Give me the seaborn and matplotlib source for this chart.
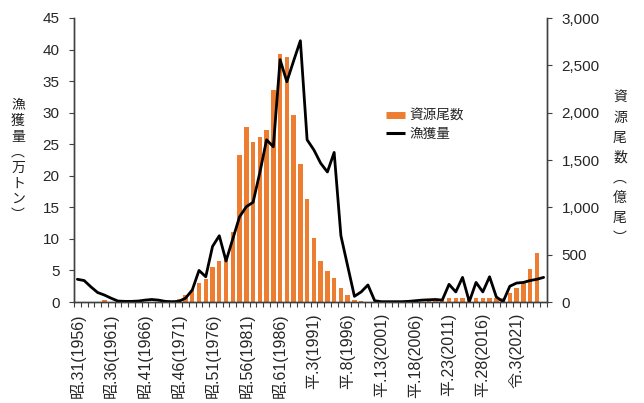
import matplotlib
matplotlib.use("Agg")
import matplotlib.pyplot as plt
from matplotlib.lines import Line2D
from matplotlib.ticker import FixedLocator, FuncFormatter
import seaborn as sns
import numpy as np

# 漁獲量 (万トン), 1956-2025
years = list(range(1956, 2026))
catch = [3.6, 3.4, 2.4, 1.5, 1.1, 0.6, 0.15, 0.1, 0.1, 0.15,
         0.3, 0.4, 0.3, 0.1, 0.05, 0.1, 0.6, 1.9, 5.0, 4.0,
         8.8, 10.5, 6.5, 10.0, 13.5, 15.1, 15.8, 20.5, 25.7, 24.6,
         38.4, 34.9, 38.2, 41.4, 25.7, 24.1, 22.0, 20.6, 23.7, 10.5,
         5.7, 0.9, 1.6, 2.7, 0.2, 0.05, 0.05, 0.05, 0.05, 0.1,
         0.2, 0.3, 0.35, 0.4, 0.3, 2.8, 1.6, 3.9, 0.05, 3.1,
         1.6, 4.0, 0.8, 0.05, 2.5, 3.0, 3.1, 3.4, 3.6, 3.9]

# 資源尾数 (億尾), 1956-2024
stock_years = list(range(1956, 2025))
stock = [3, 3, 2, 5, 20, 5, 2, 2, 2, 2,
         2, 2, 2, 3, 10, 35, 70, 125, 200, 245,
         372, 433, 461, 740, 1558, 1853, 1688, 1741, 1818, 2240,
         2619, 2590, 1976, 1460, 1092, 681, 432, 330, 249, 144,
         75, 25, 8, 3, 2, 2, 2, 2, 2, 3,
         4, 5, 8, 12, 25, 40, 40, 40, 40, 40,
         40, 40, 40, 45, 91, 144, 214, 345, 515]

label_years = list(range(1956, 2022, 5))
label_text = ["昭.31(1956)", "昭.36(1961)", "昭.41(1966)", "昭.46(1971)",
              "昭.51(1976)", "昭.56(1981)", "昭.61(1986)", "平.3(1991)",
              "平.8(1996)", "平.13(2001)", "平.18(2006)", "平.23(2011)",
              "平.28(2016)", "令.3(2021)"]

ORANGE = "#ED7D31"
AXIS = "#404040"

sns.set_theme(style="white")
plt.rcParams['font.family'] = ['Liberation Sans', 'Noto Sans CJK JP']

fig = plt.figure(figsize=(6.44, 4.03), dpi=100)
ax = fig.add_axes([74 / 644, 1 - 302 / 403, (547 - 74) / 644, (302 - 18) / 403])
ax2 = ax.twinx()

# bars on the right axis, line on the left axis drawn above them
sns.barplot(x=stock_years, y=stock, native_scale=True, color=ORANGE,
            saturation=1, width=0.65, edgecolor="none", ax=ax2)
sns.lineplot(x=years, y=catch, color="black", lw=2.0, ax=ax)
ax.set_zorder(ax2.get_zorder() + 1)
ax.patch.set_visible(False)

ax.set_xlim(1955.5, 2025.5)
ax.set_ylim(0, 45)
ax2.set_ylim(0, 3000)

ax.xaxis.set_major_locator(FixedLocator(label_years))
ax.set_xticklabels(label_text, rotation=90, fontsize=11.5, va="top")
ax.xaxis.set_minor_locator(FixedLocator(np.arange(1955.5, 2026, 1)))
ax.tick_params(axis="x", which="major", length=0, pad=8)
ax.tick_params(axis="x", which="minor", bottom=True, length=3.5, width=0.8,
               color=AXIS, direction="out")

ax.set_yticks(range(0, 46, 5))
ax.tick_params(axis="y", left=True, length=3.5, width=0.8, color=AXIS,
               direction="out", labelsize=11, pad=7)
ax2.set_yticks(range(0, 3001, 500))
ax2.yaxis.set_major_formatter(FuncFormatter(lambda v, p: f"{int(v):,}"))
ax2.tick_params(axis="y", right=True, length=3.5, width=0.8, color=AXIS,
                direction="out", labelsize=11, pad=7)
ax.set_xlabel("")
ax.set_ylabel("")
ax2.set_ylabel("")

for a in (ax, ax2):
    a.spines["top"].set_visible(False)
    for s in ("left", "right", "bottom"):
        a.spines[s].set_color(AXIS)
        a.spines[s].set_linewidth(1.0)
    a.grid(False)

# stacked vertical axis titles
fig.text(18 / 644, 1 - 160 / 403, "\n".join("漁獲量︵万トン︶"), ha="center",
         va="center", fontsize=10, linespacing=1.15, color="#222222",
         family=["Noto Sans CJK JP"])
fig.text(620 / 644, 1 - 168 / 403, "\n".join("資源尾数︵億尾︶"), ha="center",
         va="center", fontsize=10, linespacing=1.55, color="#222222",
         family=["Noto Sans CJK JP"])

handles = [Line2D([], [], color=ORANGE, lw=5, solid_capstyle="butt"),
           Line2D([], [], color="black", lw=2.2, solid_capstyle="butt")]
fig.legend(handles, ["資源尾数", "漁獲量"], loc="upper left",
           bbox_to_anchor=(386 / 644, 1 - 109 / 403), frameon=False,
           fontsize=9.8, handlelength=1.4, handletextpad=0.3,
           labelspacing=0.3, borderpad=0, borderaxespad=0)

fig.savefig("out.png", dpi=100)
